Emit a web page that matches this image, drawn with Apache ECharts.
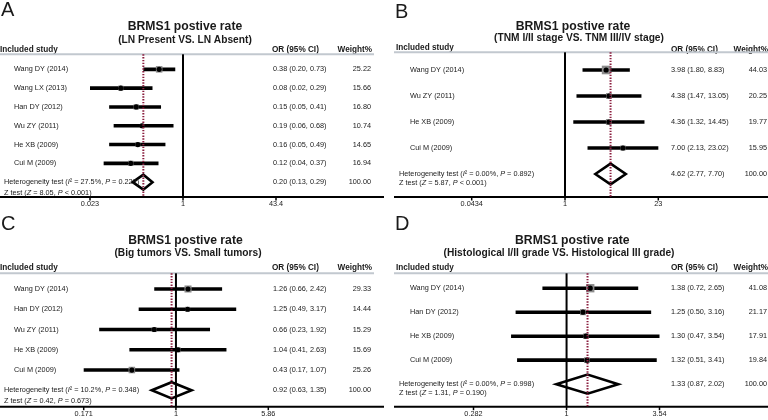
<!DOCTYPE html>
<html><head><meta charset="utf-8">
<script src="https://cdn.jsdelivr.net/npm/echarts@6/dist/echarts.min.js"></script>
<style>html,body{margin:0;padding:0;background:#fff}#c{width:768px;height:420px}</style>
</head><body><div id="c"></div>
<script>
// ---------- DATA ----------
const studiesA = ['Wang DY (2014)','Wang LX (2013)','Han DY (2012)','Wu ZY (2011)','He XB (2009)','Cui M (2009)'];
const orA = [0.38, 0.08, 0.15, 0.19, 0.16, 0.12];
const loA = [0.20, 0.023, 0.05, 0.06, 0.05, 0.04];
const upA = [0.73, 0.29, 0.41, 0.68, 0.49, 0.37];
const wtA = [25.22, 15.66, 16.80, 10.74, 14.65, 16.94];
const pooledA = [0.20, 0.13, 0.29];
const statsA = ['27.5%', '0.229', '8.05', '< 0.001'];
const ticksA = [0.023, 1, 43.4];
const tickLabelsA = ['0.023', '1', '43.4'];

const studiesB = ['Wang DY (2014)','Wu ZY (2011)','He XB (2009)','Cui M (2009)'];
const orB = [3.98, 4.38, 4.36, 7.00];
const loB = [1.80, 1.47, 1.32, 2.13];
const upB = [8.83, 13.05, 14.45, 23.02];
const wtB = [44.03, 20.25, 19.77, 15.95];
const pooledB = [4.62, 2.77, 7.70];
const statsB = ['0.00%', '0.892', '5.87', '< 0.001'];
const ticksB = [0.0434, 1, 23];
const tickLabelsB = ['0.0434', '1', '23'];

const studiesC = ['Wang DY (2014)','Han DY (2012)','Wu ZY (2011)','He XB (2009)','Cui M (2009)'];
const orC = [1.26, 1.25, 0.66, 1.04, 0.43];
const loC = [0.66, 0.49, 0.23, 0.41, 0.171];
const upC = [2.42, 3.17, 1.92, 2.63, 1.07];
const wtC = [29.33, 14.44, 15.29, 15.69, 25.26];
const pooledC = [0.92, 0.63, 1.35];
const statsC = ['10.2%', '0.348', '0.42', '= 0.673'];
const ticksC = [0.171, 1, 5.86];
const tickLabelsC = ['0.171', '1', '5.86'];

const studiesD = ['Wang DY (2014)','Han DY (2012)','He XB (2009)','Cui M (2009)'];
const orD = [1.38, 1.25, 1.30, 1.32];
const loD = [0.72, 0.50, 0.47, 0.51];
const upD = [2.65, 3.16, 3.54, 3.41];
const wtD = [41.08, 21.17, 17.91, 19.84];
const pooledD = [1.33, 0.87, 2.02];
const statsD = ['0.00%', '0.998', '1.31', '= 0.190'];
const ticksD = [0.282, 1, 3.54];
const tickLabelsD = ['0.282', '1', '3.54'];

const titles = ['BRMS1 postive rate','BRMS1 postive rate','BRMS1 postive rate','BRMS1 postive rate'];
const subtitles = ['(LN Present VS. LN Absent)','(TNM I/II stage VS. TNM III/IV stage)','(Big tumors VS. Small tumors)','(Histological I/II grade VS. Histological III grade)'];
const letters = ['A','B','C','D'];

// ---------- LAYOUT ----------
const FONT = "'Liberation Sans', Arial, Helvetica, sans-serif";
const TXT = '#1a1a1a';
const layouts = [
  {x0:0, x1:384, grayX1:374, letterX:1, letterY:10, titleX:185, titleY:27, subX:185, subY:40,
   hdrY:49.5, hdrOrY:49.5, nameX:14, hdrOrX:272, orX:273, wX:371, hetX:4, zOff:10.5,
   center:183, half:93, lineY:54.3, axisY:197, yMin:0.2, yMax:7.79, tickLabelY:204},
  {x0:394, x1:768, grayX1:768, letterX:395, letterY:12.5, titleX:573, titleY:27, subX:579, subY:38.5,
   hdrY:47.7, hdrOrY:50, nameX:410, hdrOrX:671, orX:671, wX:767, hetX:399, zOff:8.7,
   center:565, half:93.3, lineY:52.3, axisY:197, yMin:0.32, yMax:5.885, tickLabelY:204},
  {x0:0, x1:384, grayX1:374, letterX:1, letterY:224.3, titleX:185.5, titleY:241, subX:188, subY:253.5,
   hdrY:267.3, hdrOrY:267.3, nameX:14, hdrOrX:272, orX:273, wX:371, hetX:4, zOff:10.7,
   center:176, half:92.3, lineY:273.3, axisY:406.7, yMin:0.225, yMax:6.81, tickLabelY:413.8},
  {x0:394, x1:768, grayX1:768, letterX:395, letterY:224.5, titleX:572.3, titleY:241, subX:559, subY:253.5,
   hdrY:267.3, hdrOrY:267.3, nameX:410, hdrOrX:671, orX:671, wX:767, hetX:399, zOff:8.7,
   center:566.5, half:93, lineY:273.3, axisY:406.7, yMin:0.378, yMax:5.94, tickLabelY:413.8}
];

const panels = [
  {studies:studiesA, or:orA, lo:loA, up:upA, wt:wtA, pooled:pooledA, stats:statsA, ticks:ticksA, tickLabels:tickLabelsA},
  {studies:studiesB, or:orB, lo:loB, up:upB, wt:wtB, pooled:pooledB, stats:statsB, ticks:ticksB, tickLabels:tickLabelsB},
  {studies:studiesC, or:orC, lo:loC, up:upC, wt:wtC, pooled:pooledC, stats:statsC, ticks:ticksC, tickLabels:tickLabelsC},
  {studies:studiesD, or:orD, lo:loD, up:upD, wt:wtD, pooled:pooledD, stats:statsD, ticks:ticksD, tickLabels:tickLabelsD}
];

function fmtCI(o, l, u) { return o.toFixed(2) + ' (' + l.toFixed(2) + ', ' + u.toFixed(2) + ')'; }
function txt(x, y, s, align, extra) {
  return {type:'text', x:x, y:y, style:Object.assign({text:s, fill:TXT, fontSize:7.3, fontFamily:FONT,
    align:align, textAlign:align, verticalAlign:'middle', textVerticalAlign:'middle'}, extra || {})};
}
const italic = {fontStyle:'italic', fontSize:7.3, fontFamily:FONT, fill:TXT};

function rowRenderer(p, L) {
  return function (params, api) {
    const i = params.dataIndex;
    const n = p.studies.length;
    const isSum = i === n;
    const y = api.value(1);
    const cOr = api.coord([api.value(0), y]);
    const cLo = api.coord([api.value(2), y]);
    const cUp = api.coord([api.value(3), y]);
    const cy = cOr[1];
    const rowH = Math.abs(api.coord([1, y + 1])[1] - cy);
    const ch = [];
    if (!isSum) {
      ch.push({type:'line', shape:{x1:cLo[0], y1:cy, x2:cUp[0], y2:cy}, style:{stroke:'#000', lineWidth:3.6}});
      const bs = Math.sqrt(api.value(4)) * 1.3;
      ch.push({type:'rect', shape:{x:cOr[0]-bs/2, y:cy-bs/2, width:bs, height:bs}, style:{fill:'#8c8c8c'}});
      ch.push({type:'circle', shape:{cx:cOr[0], cy:cy, r:2.6}, style:{fill:'#000'}});
      ch.push(txt(L.nameX, cy, p.studies[i], 'left'));
    } else {
      const h = rowH * 0.4;
      ch.push({type:'polygon', shape:{points:[[cLo[0],cy],[cOr[0],cy-h],[cUp[0],cy],[cOr[0],cy+h]]},
        style:{fill:'#fff', stroke:'#000', lineWidth:2.6}});
      const s = p.stats;
      ch.push(txt(L.hetX, cy, 'Heterogeneity test ({i|I}² = ' + s[0] + ', {i|P} = ' + s[1] + ')', 'left', {rich:{i:italic}}));
      ch.push(txt(L.hetX, cy + L.zOff, 'Z test ({i|Z} = ' + s[2] + ', {i|P} ' + s[3] + ')', 'left', {rich:{i:italic}}));
    }
    ch.push(txt(L.orX, cy, fmtCI(api.value(0), api.value(2), api.value(3)), 'left'));
    ch.push(txt(L.wX, cy, api.value(4).toFixed(2), 'right'));
    return {type:'group', children:ch};
  };
}
function refRenderer() {
  return function (params, api) {
    const cs = params.coordSys;
    const x = api.coord([api.value(0), api.value(1)])[0];
    const isPooled = params.dataIndex === 1;
    return {type:'line', shape:{x1:x, y1:cs.y, x2:x, y2:cs.y + cs.height},
      style: isPooled ? {stroke:'#8b1e3f', lineWidth:2, lineDash:[1.4,1.4]} : {stroke:'#000', lineWidth:2}};
  };
}
function tickRenderer(p, L) {
  return function (params, api) {
    const x = api.coord([api.value(0), api.value(1)])[0];
    return {type:'group', children:[
      {type:'line', shape:{x1:x, y1:L.axisY, x2:x, y2:L.axisY + 3.5}, style:{stroke:'#000', lineWidth:1.5}},
      txt(x, L.tickLabelY, p.tickLabels[params.dataIndex], 'center')
    ]};
  };
}

const grid = [], xAxis = [], yAxis = [], series = [], graphic = [];
panels.forEach(function (p, k) {
  const L = layouts[k];
  grid.push({left:L.center - L.half, width:2*L.half, top:L.lineY, height:L.axisY - L.lineY});
  xAxis.push({type:'log', logBase:10, gridIndex:k, min:p.ticks[0], max:p.ticks[2], show:false});
  yAxis.push({type:'value', gridIndex:k, min:L.yMin, max:L.yMax, inverse:true, show:false});
  const rows = p.studies.map(function (s, i) { return [p.or[i], i + 1, p.lo[i], p.up[i], p.wt[i]]; });
  rows.push([p.pooled[0], p.studies.length + 1, p.pooled[1], p.pooled[2], 100]);
  series.push({type:'custom', coordinateSystem:'cartesian2d', xAxisIndex:k, yAxisIndex:k, clip:false, silent:true,
    z:2, data:rows, renderItem:rowRenderer(p, L)});
  series.push({type:'custom', coordinateSystem:'cartesian2d', xAxisIndex:k, yAxisIndex:k, clip:false, silent:true,
    z:3, data:[[1, 1], [p.pooled[0], 1]], renderItem:refRenderer()});
  series.push({type:'custom', coordinateSystem:'cartesian2d', xAxisIndex:k, yAxisIndex:k, clip:false, silent:true,
    z:3, data:p.ticks.map(function (v) { return [v, 1]; }), renderItem:tickRenderer(p, L)});

  const T = function (x, y, s, size, weight, align) {
    return {type:'text', x:x, y:y, silent:true, style:{text:s, fill:TXT, fontSize:size, fontWeight:weight, fontFamily:FONT,
      align:align, textAlign:align, verticalAlign:'middle', textVerticalAlign:'middle'}};
  };
  graphic.push(T(L.letterX, L.letterY, letters[k], 20, 'normal', 'left'));
  graphic.push(T(L.titleX, L.titleY, titles[k], 12.2, 'bold', 'center'));
  graphic.push(T(L.subX, L.subY, subtitles[k], 10.2, 'bold', 'center'));
  graphic.push(T(L.x0 + (k % 2 ? 2 : 0), L.hdrY, 'Included study', 8.2, 'bold', 'left'));
  graphic.push(T(L.hdrOrX, L.hdrOrY, 'OR (95% CI)', 8.2, 'bold', 'left'));
  graphic.push(T(L.wX + 1, L.hdrOrY, 'Weight%', 8.2, 'bold', 'right'));
  graphic.push({type:'line', silent:true, shape:{x1:L.x0, y1:L.lineY, x2:L.grayX1, y2:L.lineY}, style:{stroke:'#c2c8cf', lineWidth:2}});
  graphic.push({type:'line', silent:true, shape:{x1:L.x0, y1:L.axisY, x2:L.x1, y2:L.axisY}, style:{stroke:'#000', lineWidth:2}});
});

const chart = echarts.init(document.getElementById('c'), null, {renderer:'canvas'});
chart.setOption({animation:false, backgroundColor:'#fff', grid:grid, xAxis:xAxis, yAxis:yAxis, series:series, graphic:graphic});
</script></body></html>
